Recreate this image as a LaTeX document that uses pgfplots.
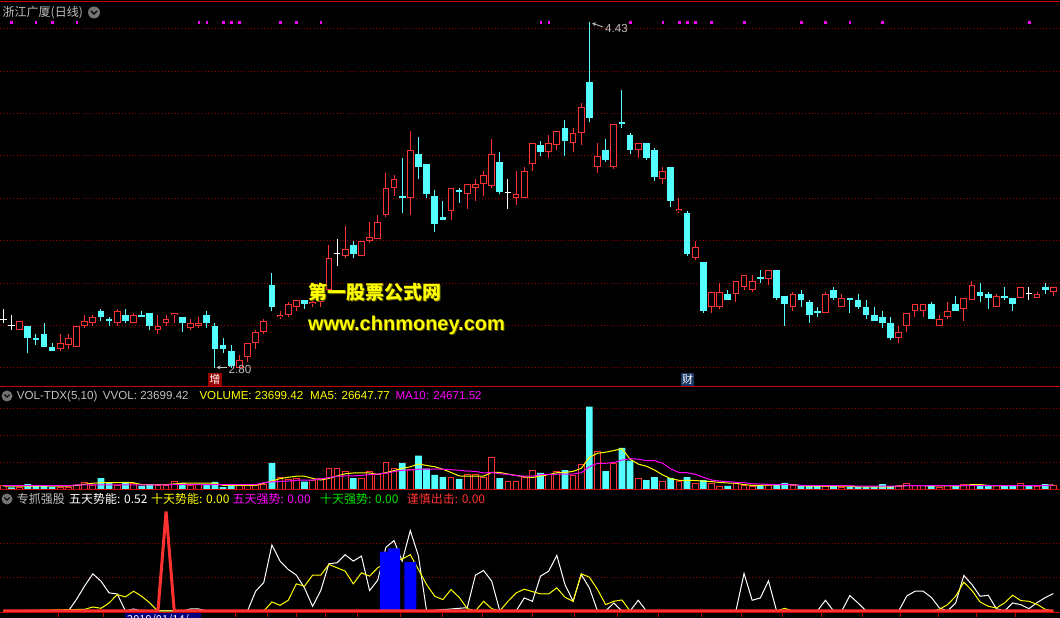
\documentclass[border=0pt]{standalone}
\usepackage{fontspec}
\setmainfont{Liberation Sans}
\newfontfamily\cjk{Noto Sans CJK SC}
\usepackage{pgfplots}
\usepackage{pgfplotstable}
\pgfplotsset{compat=1.18}

\definecolor{tdxred}{RGB}{255,50,50}
\definecolor{tdxcyan}{RGB}{84,255,255}
\definecolor{tdxgrid}{RGB}{150,0,0}
\definecolor{tdxborder}{RGB}{200,0,0}
\definecolor{txtgray}{RGB}{192,192,192}
\definecolor{tdxmag}{RGB}{255,0,255}
\definecolor{tdxyellow}{RGB}{255,255,0}
\definecolor{tdxgreen}{RGB}{0,230,0}
\definecolor{tdxblue}{RGB}{0,0,255}
\definecolor{zengred}{RGB}{150,0,0}
\definecolor{caiblue}{RGB}{25,55,100}
\definecolor{boxblue}{RGB}{0,0,128}
\definecolor{olive}{RGB}{90,90,0}

% ---------- daily candles: index, open, high, low, close ----------
\pgfplotstableread{
i o h l c
2 2.98 3.02 2.98 3.02
7 2.89 2.96 2.88 2.92
8 2.91 2.96 2.89 2.94
9 2.90 3.00 2.90 3.00
10 3.00 3.05 2.99 3.02
11 3.01 3.05 3.00 3.04
14 3.01 3.08 3.00 3.07
16 3.01 3.06 3.01 3.05
19 2.98 3.05 2.96 3.00
20 3.01 3.05 3.00 3.03
21 3.05 3.06 3.01 3.06
23 2.99 3.03 2.98 3.01
24 3.00 3.04 2.99 3.01
29 2.80 2.86 2.80 2.84
30 2.85 2.92 2.83 2.92
31 2.92 2.98 2.89 2.97
32 2.97 3.03 2.96 3.02
34 3.04 3.07 3.03 3.05
35 3.05 3.11 3.04 3.10
36 3.09 3.12 3.07 3.12
38 3.10 3.13 3.09 3.11
39 3.11 3.15 3.09 3.14
40 3.17 3.38 3.17 3.32
42 3.33 3.47 3.32 3.36
44 3.33 3.40 3.33 3.40
45 3.40 3.49 3.39 3.42
46 3.41 3.52 3.41 3.49
47 3.52 3.72 3.51 3.65
48 3.65 3.71 3.61 3.69
50 3.60 3.92 3.52 3.83
55 3.54 3.65 3.50 3.65
57 3.62 3.67 3.55 3.67
58 3.65 3.69 3.59 3.67
59 3.67 3.73 3.61 3.71
60 3.66 3.88 3.65 3.81
63 3.60 3.73 3.57 3.62
64 3.60 3.75 3.60 3.73
65 3.76 3.86 3.73 3.86
67 3.82 3.90 3.79 3.86
68 3.85 3.92 3.83 3.92
70 3.86 3.93 3.82 3.91
71 3.91 4.05 3.85 4.03
73 3.75 3.86 3.72 3.80
75 3.75 3.95 3.74 3.95
78 3.83 3.86 3.79 3.86
81 3.69 3.75 3.67 3.73
83 3.54 3.60 3.53 3.55
85 3.32 3.40 3.31 3.37
87 3.09 3.16 3.06 3.16
88 3.09 3.20 3.08 3.16
90 3.15 3.21 3.11 3.21
91 3.18 3.24 3.17 3.24
92 3.17 3.24 3.16 3.21
94 3.22 3.26 3.19 3.26
97 3.09 3.16 3.07 3.15
101 3.06 3.16 3.06 3.15
103 3.09 3.15 3.09 3.13
110 2.94 3.00 2.92 2.97
111 3.00 3.06 2.97 3.06
112 3.07 3.10 3.04 3.10
113 3.07 3.10 3.04 3.10
115 3.00 3.05 3.00 3.03
116 3.04 3.11 3.03 3.07
118 3.08 3.13 3.02 3.13
119 3.12 3.21 3.12 3.19
122 3.09 3.15 3.09 3.14
125 3.13 3.18 3.13 3.18
127 3.13 3.16 3.13 3.15
129 3.16 3.18 3.14 3.18
}\redK

\pgfplotstableread{
i o h l c
3 3.00 3.00 2.87 2.94
4 2.94 2.96 2.91 2.93
5 2.96 3.01 2.90 2.90
6 2.90 2.92 2.88 2.88
12 3.07 3.08 3.02 3.04
13 3.03 3.04 3.00 3.02
15 3.05 3.08 3.01 3.02
17 3.05 3.07 3.04 3.04
18 3.06 3.06 2.98 3.00
22 3.04 3.04 2.97 3.01
25 3.05 3.07 2.99 3.01
26 3.00 3.01 2.80 2.89
27 2.91 2.94 2.87 2.89
28 2.88 2.91 2.80 2.81
33 3.19 3.25 3.07 3.09
37 3.12 3.12 3.08 3.10
43 3.38 3.40 3.32 3.34
49 3.61 3.79 3.53 3.60
51 3.81 3.89 3.69 3.75
52 3.76 3.76 3.60 3.62
53 3.61 3.64 3.44 3.48
54 3.51 3.59 3.50 3.50
56 3.64 3.65 3.58 3.63
61 3.77 3.82 3.62 3.63
66 3.85 3.87 3.80 3.82
69 3.93 3.97 3.80 3.87
72 4.15 4.43 3.96 3.98
74 3.83 3.88 3.77 3.78
76 3.96 4.11 3.93 3.95
77 3.90 3.91 3.81 3.83
79 3.86 3.86 3.78 3.79
80 3.83 3.84 3.68 3.70
82 3.75 3.75 3.56 3.59
84 3.53 3.54 3.33 3.34
86 3.30 3.30 3.06 3.07
89 3.15 3.17 3.12 3.12
93 3.23 3.26 3.20 3.22
95 3.26 3.26 3.12 3.13
96 3.14 3.14 3.00 3.10
98 3.15 3.17 3.09 3.12
99 3.11 3.12 3.01 3.05
100 3.07 3.09 3.04 3.06
102 3.17 3.18 3.12 3.13
104 3.13 3.13 3.06 3.12
105 3.12 3.15 3.08 3.09
106 3.09 3.12 3.03 3.05
107 3.05 3.09 3.02 3.02
108 3.04 3.07 2.99 3.01
109 3.01 3.04 2.93 2.94
114 3.10 3.11 3.03 3.03
117 3.10 3.14 3.07 3.07
120 3.16 3.20 3.11 3.14
121 3.15 3.16 3.08 3.13
123 3.14 3.18 3.12 3.13
124 3.13 3.13 3.07 3.10
128 3.18 3.20 3.15 3.17
}\cyanK

\pgfplotstableread{
i o h l c
0 3.03 3.08 3.01 3.03
1 3.00 3.05 2.98 3.00
41 3.34 3.41 3.28 3.34
62 3.63 3.69 3.55 3.63
126 3.15 3.18 3.12 3.15
}\dojiK

\pgfplotstableread{
i p
1 4.43
4 4.43
6 4.43
9 4.43
24 4.43
25 4.43
27 4.43
28 4.43
29 4.43
34 4.43
36 4.43
39 4.43
66 4.43
67 4.43
77 4.43
81 4.43
83 4.43
84 4.43
85 4.43
87 4.43
91 4.43
98 4.43
101 4.43
104 4.43
108 4.43
126 4.43
}\sigdots

% ---------- volume (1 unit = one grid step) ----------
\pgfplotstableread{
i v
0 0.17
2 0.10
7 0.10
8 0.10
9 0.17
10 0.26
11 0.17
14 0.17
16 0.23
19 0.17
20 0.17
21 0.33
23 0.17
24 0.22
29 0.16
30 0.16
31 0.17
32 0.22
34 0.47
35 0.40
36 0.44
38 0.37
39 0.41
40 0.81
41 0.81
42 0.67
44 0.41
45 0.70
46 0.56
47 1.00
48 0.78
50 0.77
55 0.48
57 0.56
58 0.58
59 0.48
60 1.22
62 0.30
63 0.33
64 0.48
65 0.74
67 0.59
68 0.67
70 0.52
71 0.96
73 1.43
75 0.98
78 0.43
81 0.32
83 0.33
85 0.25
87 0.25
88 0.14
90 0.25
91 0.17
92 0.14
94 0.16
97 0.16
101 0.14
103 0.10
110 0.12
111 0.25
112 0.16
113 0.17
115 0.10
116 0.17
118 0.21
119 0.21
122 0.15
125 0.25
127 0.14
129 0.17
}\volR

\pgfplotstableread{
i v
1 0.10
3 0.22
4 0.17
5 0.16
6 0.11
12 0.44
13 0.25
15 0.30
17 0.15
18 0.20
22 0.26
25 0.19
26 0.30
27 0.11
28 0.20
33 1.00
37 0.31
43 0.44
49 1.00
51 1.27
52 0.79
53 0.56
54 0.48
56 0.41
61 0.44
66 0.63
69 0.74
72 3.09
74 0.70
76 1.56
77 1.09
79 0.37
80 0.48
82 0.44
84 0.48
86 0.37
89 0.15
93 0.16
95 0.22
96 0.26
98 0.16
99 0.16
100 0.14
102 0.15
104 0.12
105 0.12
106 0.12
107 0.12
108 0.22
109 0.14
114 0.15
117 0.16
120 0.17
121 0.17
123 0.16
124 0.16
126 0.16
128 0.22
}\volC

\pgfplotstableread{
i v
0 0.14
8 0.14
11 0.25
12 0.27
16 0.27
17 0.20
20 0.20
22 0.25
26 0.25
27 0.17
31 0.17
32 0.25
33 0.33
34 0.42
35 0.47
36 0.51
37 0.51
38 0.43
39 0.37
40 0.43
41 0.52
42 0.60
43 0.63
44 0.63
45 0.63
46 0.58
47 0.64
48 0.72
49 0.80
50 0.86
51 0.96
52 0.91
53 0.86
54 0.77
55 0.65
56 0.52
57 0.51
58 0.51
59 0.51
60 0.65
61 0.65
62 0.59
63 0.54
64 0.49
65 0.46
66 0.52
67 0.57
68 0.64
69 0.65
70 0.69
71 0.80
72 1.21
73 1.36
74 1.40
75 1.46
76 1.53
77 1.14
78 0.96
79 0.88
80 0.74
81 0.56
82 0.42
83 0.36
84 0.36
85 0.35
86 0.33
87 0.31
88 0.28
89 0.26
90 0.25
91 0.20
92 0.17
93 0.17
94 0.19
95 0.19
96 0.20
97 0.20
98 0.16
99 0.14
104 0.14
105 0.12
108 0.12
109 0.11
110 0.15
111 0.16
113 0.16
114 0.15
117 0.15
118 0.16
119 0.20
120 0.20
121 0.17
122 0.15
123 0.16
128 0.16
129 0.19
}\maFive

\pgfplotstableread{
i v
0 0.16
8 0.16
9 0.19
20 0.19
21 0.20
31 0.20
32 0.27
33 0.30
34 0.32
35 0.33
36 0.36
37 0.37
38 0.37
39 0.41
40 0.46
41 0.51
42 0.52
43 0.52
44 0.54
45 0.57
46 0.59
47 0.62
48 0.68
49 0.73
50 0.74
51 0.77
54 0.77
55 0.75
56 0.73
57 0.70
58 0.69
59 0.63
60 0.65
61 0.60
62 0.58
63 0.53
64 0.51
65 0.51
66 0.57
67 0.58
70 0.59
71 0.64
72 0.86
73 0.99
74 0.99
75 1.02
76 1.11
77 1.16
78 1.14
79 1.09
80 1.09
81 0.99
82 0.78
83 0.65
84 0.64
85 0.58
86 0.47
87 0.37
88 0.33
89 0.31
90 0.28
91 0.27
92 0.23
93 0.22
94 0.21
95 0.20
96 0.20
97 0.19
98 0.17
99 0.16
104 0.16
105 0.14
110 0.14
111 0.16
128 0.16
129 0.18
}\maTen

% ---------- indicator 专抓强股 ----------
\pgfplotstableread{
i v
0 0
8 0
9 0.35
10 0.75
11 1.11
12 0.89
13 0.54
14 0.51
15 0
16 0.06
17 0
22 0
23 0.06
24 0.06
25 0
30 0
31 0.59
32 0.85
33 1.97
34 1.49
35 1.24
36 1.07
37 0.69
38 0.14
39 0.61
40 1.41
41 1.44
42 1.68
43 1.49
44 1.64
45 0.61
46 0.92
47 1.90
48 2.10
49 1.49
50 2.40
51 1.64
52 0
57 0.10
58 1.07
59 1.21
60 0.89
61 0
63 0
64 0.39
65 0.29
66 1.04
67 1.19
68 1.66
69 0.79
70 0.29
71 1.09
72 0.69
73 0
74 0
75 0.24
76 0
77 0
78 0.32
79 0
90 0
91 1.12
92 0.32
93 0.39
94 0.90
95 0
100 0
101 0.32
102 0
103 0
104 0.46
105 0.24
106 0
110 0
111 0.45
112 0.59
113 0.59
114 0.41
115 0.09
116 0
117 0.24
118 1.06
119 0.79
120 0.44
121 0.47
122 0.07
123 0
124 0.24
125 0.19
126 0.07
127 0.25
128 0.40
129 0.52
}\wdays

\pgfplotstableread{
i v
0 0
10 0.05
11 0.12
12 0.08
13 0.24
14 0.49
15 0.42
16 0.59
17 0.44
18 0.24
19 0
32 0
33 0.27
34 0.17
35 0.32
36 0.81
37 0.74
38 1.07
39 1.07
40 1.39
41 1.29
42 1.19
43 0.81
44 1.14
45 1.04
46 1.29
47 1.45
48 1.52
49 1.55
50 1.68
51 1.24
52 0.79
53 0.44
54 0.34
55 0.64
56 0.41
57 0.07
58 0
59 0.29
60 0.07
61 0
62 0.29
63 0.54
64 0.65
65 0.58
66 0.51
67 0.51
68 0.69
69 0.41
70 0.29
71 1.11
72 1.01
73 0.64
74 0.19
75 0.29
76 0.33
77 0
95 0
96 0.08
97 0
114 0
115 0.05
116 0.19
117 0.44
118 0.86
119 0.61
120 0.27
121 0.14
122 0.09
123 0.24
124 0.47
125 0.31
126 0.29
127 0.20
128 0.05
129 0
}\tdays

\pgfplotstableread{
i v
47 1.77
48 1.87
50 1.46
}\bluebars

\pgfplotstableread{
i v
0 0
19 0
20 2.97
21 0
129 0
}\caution

\pgfplotsset{
  tdx/.style={
    scale only axis, width=1060pt, anchor=south west,
    xmin=-0.4054, xmax=129.816,
    axis line style={draw=none},
    xtick=\empty, yticklabels={},
    major tick length=0pt,
    ymajorgrids,
    major grid style={draw=tdxgrid, line width=1pt, dash pattern=on 1pt off 2.3pt},
    clip=true,
  },
}

\begin{document}
\begin{tikzpicture}[x=1pt,y=1pt]
\fill[black] (0,0) rectangle (1060,618);
\useasboundingbox (0,0) rectangle (1060,618);

% ===== main candle panel =====
\begin{axis}[tdx, at={(0pt,231pt)}, height=385pt,
  ymin=2.7104, ymax=4.5264,
  ytick={2.8,3.0,3.2,3.4,3.6,3.8,4.0,4.2,4.4}]
\addplot[tdxcyan, line width=1pt, quiver={u=0, v=\thisrow{h}-\thisrow{l}}] table[x=i, y=l] {\cyanK};
\addplot[tdxcyan, line width=6.7pt, quiver={u=0, v=\thisrow{o}-\thisrow{c}}] table[x=i, y=c] {\cyanK};
\addplot[tdxred, line width=1pt, quiver={u=0, v=\thisrow{h}-\thisrow{l}}] table[x=i, y=l] {\redK};
\addplot[tdxred, line width=6.7pt, quiver={u=0, v=\thisrow{c}-\thisrow{o}}] table[x=i, y=o] {\redK};
\addplot[black, line width=4.7pt, quiver={u=0, v=\thisrow{c}-\thisrow{o}-0.0094}] table[x=i, y expr=\thisrow{o}+0.0047] {\redK};
\addplot[white, line width=1pt, quiver={u=0, v=\thisrow{h}-\thisrow{l}}] table[x=i, y=l] {\dojiK};
\addplot[white, line width=1pt, quiver={u=0.82, v=0}] table[x expr=\thisrow{i}-0.41, y=o] {\dojiK};
\addplot[only marks, mark=square*, mark size=0.8pt, tdxmag] table[x=i, y=p] {\sigdots};
\end{axis}

% ===== volume panel =====
\begin{axis}[tdx, at={(0pt,128pt)}, height=100pt,
  ymin=0, ymax=3.7037, ytick={1,2,3}]
\addplot[ybar, bar width=6.7pt, bar shift=0pt, fill=tdxcyan, draw=none] table[x=i, y=v] {\volC};
\addplot[ybar, bar width=5.7pt, bar shift=0pt, fill=black, draw=tdxred, line width=1pt] table[x=i, y=v] {\volR};
\addplot[tdxyellow, line width=1pt] table[x=i, y=v] {\maFive};
\addplot[tdxmag, line width=1pt] table[x=i, y=v] {\maTen};
\end{axis}

% ===== indicator panel =====
\begin{axis}[tdx, at={(0pt,5pt)}, height=121pt,
  ymin=-0.0597, ymax=3.552, ytick={1,2}]
\addplot[white, line width=1pt] table[x=i, y=v] {\wdays};
\addplot[tdxyellow, line width=1pt] table[x=i, y=v] {\tdays};
\addplot[ybar, bar width=12pt, bar shift=0pt, fill=tdxblue, draw=none] table[x=i, y=v] {\bluebars};
\addplot[tdxred, line width=3pt, line join=bevel] table[x=i, y=v] {\caution};
\end{axis}

% ===== panel borders =====
\draw[tdxborder, line width=1.2pt] (0,616.5) -- (1060,616.5);
\draw[tdxborder, line width=1pt] (0,231) -- (1060,231);
\draw[tdxborder, line width=1pt] (0,128) -- (1060,128);
\draw[tdxborder, line width=1pt] (0,5) -- (1060,5);
\foreach \tx in {58,103,235,267,296,325,357,400,442,482,532,574,617,658,701,741,782,821,862,900,938,976,1015}
  \draw[tdxborder, line width=0.8pt] (\tx,5) -- (\tx,1);
\fill[boxblue] (125,0) rectangle (201,4.5);
\begin{scope}
\clip (125,0) rectangle (201,4.5);
\node[anchor=north west, inner sep=0pt, text=white, font=\cjk\fontsize{11}{11}\selectfont] at (127,3.5) {2019/01/14/一};
\end{scope}

% ===== headers =====
\node[anchor=base west, inner sep=0pt, text=txtgray, font=\cjk\fontsize{12}{12}\selectfont] at (2.5,601) {浙江广厦(日线)};
\fill[black!55] (94,605.5) circle (6);
\draw[black, line width=1.1pt] (91,607) -- (94,604) -- (97,607);

\fill[black!55] (7,222) circle (5.5);
\draw[black, line width=1.1pt] (4.3,223.5) -- (7,220.8) -- (9.7,223.5);
\begin{scope}[every node/.style={anchor=base west, inner sep=0pt, font=\fontsize{11.6}{12}\selectfont}]
\node[text=txtgray] at (16.7,218) {VOL-TDX(5,10)};
\node[text=txtgray] at (102.7,218) {VVOL: 23699.42};
\node[text=tdxyellow] at (199.3,218) {VOLUME: 23699.42};
\node[text=tdxyellow] at (310,218) {MA5: 26647.77};
\node[text=tdxmag] at (395.3,218) {MA10: 24671.52};
\end{scope}

\fill[black!55] (7,119) circle (5.5);
\draw[black, line width=1.1pt] (4.3,120.5) -- (7,117.8) -- (9.7,120.5);
\begin{scope}[every node/.style={anchor=base west, inner sep=0pt, font=\cjk\fontsize{12}{12}\selectfont}]
\node[text=txtgray] at (16.7,114.5) {专抓强股};
\node[text=white] at (69,114.5) {五天势能: 0.52};
\node[text=tdxyellow] at (151,114.5) {十天势能: 0.00};
\node[text=tdxmag] at (232.3,114.5) {五天强势: 0.00};
\node[text=tdxgreen] at (320,114.5) {十天强势: 0.00};
\node[text=tdxred] at (406.7,114.5) {谨慎出击: 0.00};
\end{scope}

% ===== annotations =====
\draw[txtgray, line width=0.8pt, -stealth] (603,591) -- (592,595);
\node[anchor=base west, inner sep=0pt, text=txtgray, font=\fontsize{11.6}{12}\selectfont] at (605,585) {4.43};
\draw[txtgray, line width=0.8pt, -stealth] (227,250.5) -- (216.5,250.5);
\node[anchor=base west, inner sep=0pt, text=txtgray, font=\fontsize{11.6}{12}\selectfont] at (228.5,244) {2.80};

\fill[zengred] (208,232) rectangle (221.5,245);
\node[inner sep=0pt, text=white, font=\cjk\fontsize{11}{11}\selectfont] at (214.75,238.5) {增};
\fill[caiblue] (681,232) rectangle (694,245);
\node[inner sep=0pt, text=white, font=\cjk\fontsize{11}{11}\selectfont] at (687.5,238.5) {财};

% watermark
\node[anchor=base west, inner sep=0pt, text=olive, font=\cjk\bfseries\fontsize{19}{19}\selectfont] at (309,317) {第一股票公式网};
\node[anchor=base west, inner sep=0pt, text=tdxyellow, font=\cjk\bfseries\fontsize{19}{19}\selectfont] at (308,318) {第一股票公式网};
\node[anchor=base west, inner sep=0pt, text=olive, font=\bfseries\fontsize{20}{20}\selectfont] at (309,286) {www.chnmoney.com};
\node[anchor=base west, inner sep=0pt, text=tdxyellow, font=\bfseries\fontsize{20}{20}\selectfont] at (308,287) {www.chnmoney.com};
\end{tikzpicture}
\end{document}
